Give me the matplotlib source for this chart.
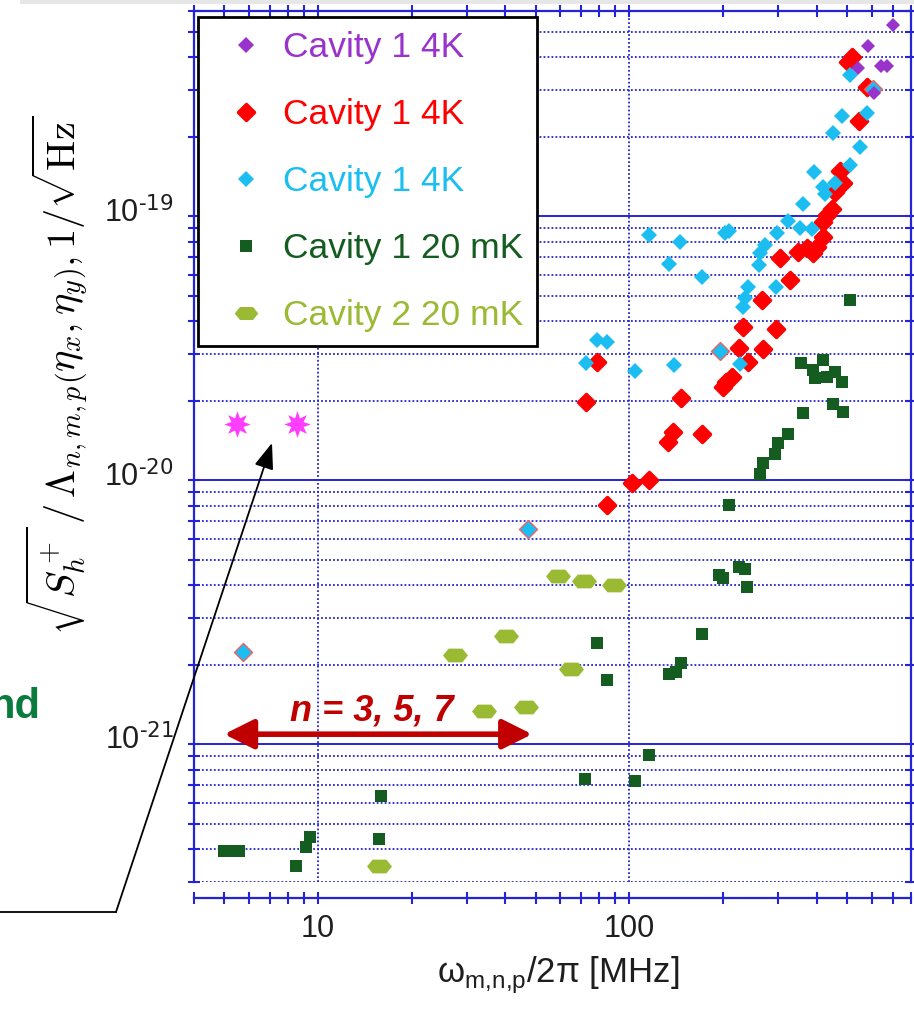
import matplotlib.pyplot as plt
import numpy as np
from matplotlib.lines import Line2D
from matplotlib.markers import MarkerStyle
from matplotlib.patches import FancyArrowPatch, Rectangle
from matplotlib.ticker import LogLocator, NullFormatter, FixedLocator, FuncFormatter
from matplotlib.transforms import ScaledTranslation

plt.rcParams['font.family'] = ['Liberation Sans', 'DejaVu Sans']

# --- data (frequency in MHz, sensitivity in 1/sqrt(Hz)) ---
purple_x = [703, 585, 543, 641, 673, 610]
purple_y = [5.32e-19, 4.43e-19, 3.65e-19, 3.70e-19, 3.70e-19, 2.93e-19]

red_x = [517, 505, 578, 546, 474, 486, 457, 446, 430, 420, 420, 399, 371, 348, 390,
         305, 328, 266, 232, 296, 225, 269, 241, 78.6, 72.6, 147, 205, 213, 200,
         138, 133, 171, 102, 116, 85]
red_y = [4.01e-19, 3.86e-19, 3.09e-19, 2.29e-19, 1.49e-19, 1.34e-19, 1.24e-19, 1.07e-19,
         1.01e-19, 9.55e-20, 8.37e-20, 7.67e-20, 7.57e-20, 7.35e-20, 7.24e-20,
         6.93e-20, 5.74e-20, 4.82e-20, 3.80e-20, 3.73e-20, 3.16e-20, 3.14e-20, 2.81e-20,
         2.81e-20, 1.98e-20, 2.04e-20, 2.36e-20, 2.47e-20, 2.26e-20,
         1.52e-20, 1.40e-20, 1.49e-20, 9.77e-21, 1.006e-20, 8.04e-21]

cyan_x = [511, 578, 481, 450, 550, 511, 392, 457, 420, 425, 361, 324, 353, 385, 297,
          272, 263, 261, 296, 241, 235, 232, 209, 203, 116, 145, 134, 171, 78.6, 85,
          72.6, 104, 139, 226]
cyan_y = [3.44e-19, 2.46e-19, 2.39e-19, 2.07e-19, 1.83e-19, 1.56e-19, 1.47e-19, 1.34e-19,
          1.29e-19, 1.21e-19, 1.11e-19, 9.63e-20, 9.01e-20, 8.93e-20, 8.63e-20,
          7.79e-20, 7.24e-20, 6.54e-20, 5.38e-20, 5.38e-20, 4.89e-20, 4.52e-20, 8.83e-20,
          8.63e-20, 8.50e-20, 8.02e-20, 6.60e-20, 5.91e-20, 3.40e-20, 3.35e-20,
          2.77e-20, 2.60e-20, 2.73e-20, 2.75e-20]

# points where the two 4K runs coincide (cyan with red rim)
both_x = [607, 195, 47.2, 5.74]
both_y = [3.03e-19, 3.09e-20, 6.52e-21, 2.23e-21]

dkgreen_x = [511, 357, 420, 390, 394, 430, 457, 481, 452, 486, 361, 324, 301, 294, 269,
             263, 209, 194, 200, 225, 235, 238, 171, 147, 141, 134, 78.6, 85, 116, 104,
             72.2, 15.9, 15.7, 9.45, 9.17, 8.50, 4.98, 5.27, 5.56]
dkgreen_y = [4.82e-20, 2.77e-20, 2.85e-20, 2.61e-20, 2.43e-20, 2.47e-20, 2.58e-20, 2.36e-20,
             1.95e-20, 1.82e-20, 1.79e-20, 1.49e-20, 1.38e-20, 1.26e-20, 1.16e-20,
             1.06e-20, 8.04e-21, 4.36e-21, 4.27e-21, 4.69e-21, 4.62e-21, 3.94e-21,
             2.62e-21, 2.03e-21, 1.87e-21, 1.85e-21, 2.41e-21, 1.75e-21, 9.06e-22, 7.23e-22,
             7.38e-22, 6.38e-22, 4.37e-22, 4.43e-22, 4.06e-22, 3.44e-22, 3.92e-22, 3.92e-22, 3.92e-22]

ygreen_x = [59.2, 71.6, 89.5, 40.2, 27.6, 65.0, 34.2, 46.6, 15.7]
ygreen_y = [4.32e-21, 4.15e-21, 4.00e-21, 2.57e-21, 2.17e-21, 1.93e-21, 1.34e-21, 1.38e-21, 3.44e-22]

star_x = [5.5, 8.56]
star_y = [1.63e-20, 1.63e-20]

band_lo, band_hi, band_y = 5.0, 48.7, 1.09e-21

xticks = [10, 100]
yticks = [1e-21, 1e-20, 1e-19]

labels = ['Cavity 1 4K', 'Cavity 1 4K', 'Cavity 1 4K', 'Cavity 1 20 mK', 'Cavity 2 20 mK']
colors = ['#9933CC', '#FF0000', '#1CBEF2', '#145C20', '#9BBA34']

blue = '#2424D6'

fig = plt.figure(figsize=(9.14, 10.17), dpi=100)
# faint grey strip along the top edge of the original screenshot
fig.add_artist(Rectangle((0.022, 0.996), 0.978, 0.004, transform=fig.transFigure,
                         color='#E6E6E6', lw=0, zorder=0))
ax = fig.add_axes([0.2123, 0.1327, 0.784, 0.8565])
ax.set_xscale('log')
ax.set_yscale('log')
ax.set_xlim(4, 800)
ax.set_ylim(3e-22, 6e-19)

hexv = [(-1, 0), (-0.55, 0.55), (0.55, 0.55), (1, 0), (0.55, -0.55), (-0.55, -0.55), (-1, 0)]
red_m = MarkerStyle('D', joinstyle='round')

ax.plot(red_x, red_y, ls='none', marker=red_m, ms=8, color=colors[1], mec=colors[1], mew=2.5)
ax.plot(both_x, both_y, ls='none', marker='D', ms=9, color=colors[2], mec='#F06060', mew=1)
ax.plot(cyan_x, cyan_y, ls='none', marker='D', ms=8, color=colors[2], mew=0)
ax.plot(purple_x, purple_y, ls='none', marker='D', ms=7.5, color=colors[0], mew=0)
ax.plot(dkgreen_x, dkgreen_y, ls='none', marker='s', ms=9, color=colors[3], mew=0)
ax.plot(ygreen_x, ygreen_y, ls='none', marker=hexv, ms=18, color=colors[4], mew=0)
ax.plot(star_x, star_y, ls='none', marker=(8, 1, 0), ms=19, color='#FF3DFF', mew=0)

# axes styling
for s in ax.spines.values():
    s.set_color(blue)
    s.set_linewidth(1.6)
ax.spines['bottom'].set_position(('outward', 11.5))
ax.xaxis.set_major_locator(FixedLocator(xticks))
ax.xaxis.set_minor_locator(LogLocator(base=10, subs=np.arange(2, 10), numticks=30))
ax.yaxis.set_major_locator(FixedLocator(yticks))
ax.yaxis.set_minor_locator(LogLocator(base=10, subs=np.arange(2, 10), numticks=30))
ax.xaxis.set_major_formatter(FuncFormatter(lambda v, _: f'{v:g}'))
ax.yaxis.set_major_formatter(FuncFormatter(lambda v, _: '10$^{\\text{%d}}$' % round(np.log10(v))))
ax.xaxis.set_minor_formatter(NullFormatter())
ax.yaxis.set_minor_formatter(NullFormatter())
ax.tick_params(which='both', direction='inout', color=blue, width=1.5, length=9,
               top=True, right=True, labelsize=22, labelcolor='#1e1e1e')
ax.tick_params(axis='x', pad=7)
ax.tick_params(axis='y', pad=10)
for t in ax.get_yticklabels():
    t.set_transform(t.get_transform() + ScaledTranslation(0, 5 / 72, fig.dpi_scale_trans))

ax.set_axisbelow(True)
ax.yaxis.grid(True, which='major', color=blue, lw=1.4, ls='-')
ax.yaxis.grid(True, which='minor', color=blue, lw=1.3, ls=(0, (1, 1.2)))
ax.xaxis.grid(True, which='major', color=blue, lw=1.3, ls=(0, (1, 1.2)))

# legend handles (the legend uses its own marker sizes)
handles = [
    Line2D([], [], ls='none', marker='D', ms=8.6, color=colors[0], mew=0),
    Line2D([], [], ls='none', marker=red_m, ms=8.5, color=colors[1], mec=colors[1], mew=2.5),
    Line2D([], [], ls='none', marker='D', ms=8.6, color=colors[2], mew=0),
    Line2D([], [], ls='none', marker='s', ms=9, color=colors[3], mew=0),
    Line2D([], [], ls='none', marker=hexv, ms=17, color=colors[4], mew=0),
]
leg = ax.legend(handles, labels, loc='upper left',
                bbox_to_anchor=(198 / 914, 1 - 17 / 1017), bbox_transform=fig.transFigure,
                borderaxespad=0, fontsize=25.5, fancybox=False, edgecolor='black',
                framealpha=1, handlelength=1.9, handletextpad=0.1, labelspacing=0.96,
                borderpad=0.4)
leg.get_frame().set_linewidth(2)
for t, c in zip(leg.get_texts(), colors):
    t.set_color(c)

# red band arrow
ax.annotate('', xy=(band_lo, band_y), xytext=(band_hi, band_y),
            arrowprops=dict(arrowstyle='<|-|>,head_length=0.9,head_width=0.45',
                            color='#C00000', lw=4, shrinkA=0, shrinkB=0, mutation_scale=20))
ax.text(14.9, 1.33e-21, 'n = 3, 5, 7', color='#C00000', fontsize=26, fontweight='bold',
        fontstyle='italic', ha='center', va='center')

# labels
fig.text(57 / 914, 1 - 375 / 1017,
         r'$\sqrt{S_h^+}\,/\,\Lambda_{n,m,p}\left(\eta_x,\eta_y\right),1/\sqrt{\mathrm{Hz}}$',
         rotation=90, ha='center', va='center', fontsize=29, math_fontfamily='cm')
fig.text(558 / 914, 1 - 975 / 1017, 'ω$_\\mathregular{m{,}n{,}p}$/2π [MHz]',
         ha='center', va='center', fontsize=25, color='#1e1e1e')
fig.text(40 / 914, 1 - 718 / 1017, 'nd', ha='right', va='baseline', fontsize=30,
         fontweight='bold', color='#0B7A3E')

# pointer line from the left
fig.add_artist(Line2D([0, 116 / 914], [1 - 912 / 1017] * 2, transform=fig.transFigure,
                      color='black', lw=1.3))
fig.add_artist(FancyArrowPatch((116 / 914, 1 - 912 / 1017), (272 / 914, 1 - 443 / 1017),
                               transform=fig.transFigure, arrowstyle='-|>,head_length=0.8,head_width=0.3',
                               color='black', lw=1.3, mutation_scale=20, shrinkA=0, shrinkB=0, zorder=10))

fig.savefig('out.png', dpi=100)
